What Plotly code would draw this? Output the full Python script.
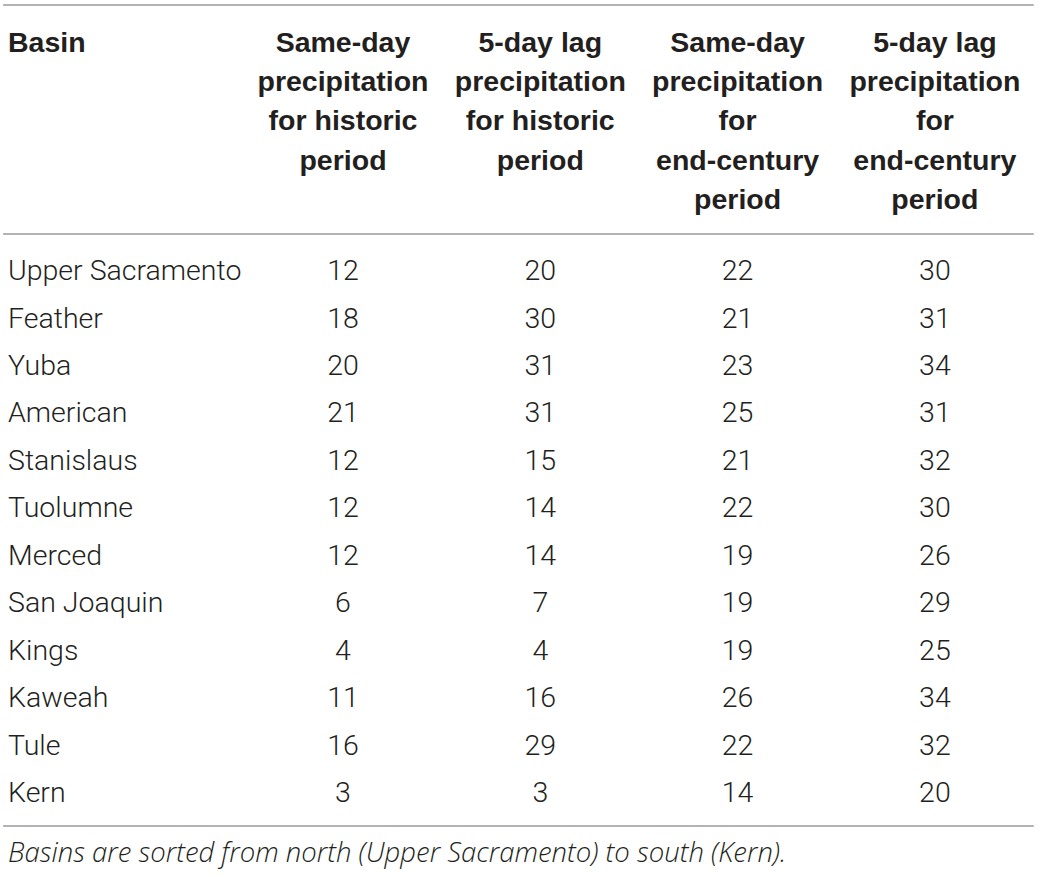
import plotly.graph_objects as go

basins = ['Upper Sacramento', 'Feather', 'Yuba', 'American', 'Stanislaus', 'Tuolumne',
          'Merced', 'San Joaquin', 'Kings', 'Kaweah', 'Tule', 'Kern']
same_day_hist = [12, 18, 20, 21, 12, 12, 12, 6, 4, 11, 16, 3]
lag5_hist = [20, 30, 31, 31, 15, 14, 14, 7, 4, 16, 29, 3]
same_day_end = [22, 21, 23, 25, 21, 22, 19, 19, 19, 26, 22, 14]
lag5_end = [30, 31, 34, 31, 32, 30, 26, 29, 25, 34, 32, 20]

headers = [
    ['Basin'],
    ['Same-day', 'precipitation', 'for historic', 'period'],
    ['5-day lag', 'precipitation', 'for historic', 'period'],
    ['Same-day', 'precipitation', 'for', 'end-century', 'period'],
    ['5-day lag', 'precipitation', 'for', 'end-century', 'period'],
]
footnote = 'Basins are sorted from north (Upper Sacramento) to south (Kern).'

columns = [same_day_hist, lag5_hist, same_day_end, lag5_end]

# layout helpers: rows are 47.45px apart, first row centred at 270px
ROW_H = 47.45
FIRST = 270
COL_W = 197.3
COL1 = 343
NUDGE = 3  # plotly's "middle" sits a little above the cap centre


def ypx(px):
    return (px - FIRST) / ROW_H


def xpx(px):
    return 1 + (px - COL1) / COL_W


TXT = '#231f20'
BODY = dict(family='Roboto', size=28.5, color=TXT, weight=300)
HEAD = dict(family='Liberation Sans', size=28.5, color=TXT, weight=700)

fig = go.Figure()
rows = [ypx(FIRST + NUDGE) + i for i in range(len(basins))]

fig.add_trace(go.Scatter(x=[xpx(8)] * len(basins), y=rows, text=basins, mode='text',
                         textposition='middle right', textfont=BODY, hoverinfo='skip'))
for j, col in enumerate(columns, start=1):
    fig.add_trace(go.Scatter(x=[j] * len(col), y=rows, text=[str(v) for v in col], mode='text',
                             textposition='middle center', textfont=BODY, hoverinfo='skip'))

for j, lines in enumerate(headers):
    ys = [ypx(41.5 + NUDGE + k * 39.3) for k in range(len(lines))]
    if j == 0:
        fig.add_trace(go.Scatter(x=[xpx(8)] * len(lines), y=ys, text=lines, mode='text',
                                 textposition='middle right', textfont=HEAD, hoverinfo='skip'))
    else:
        fig.add_trace(go.Scatter(x=[j] * len(lines), y=ys, text=lines, mode='text',
                                 textposition='middle center', textfont=HEAD, hoverinfo='skip'))

rule = dict(color='#9a9a9a', width=1.5)
for px in [5, 234, 826]:
    fig.add_shape(type='line', xref='paper', yref='y', x0=0.003, x1=0.994,
                  y0=ypx(px), y1=ypx(px), line=rule)

fig.add_annotation(text=footnote, xref='x', yref='y', x=xpx(6), y=ypx(851),
                   xanchor='left', yanchor='middle', showarrow=False,
                   font=dict(family='Open Sans', size=27.5, color=TXT, weight=300, style='italic'))

fig.update_layout(
    width=1040, height=875,
    margin=dict(l=0, r=0, t=0, b=0),
    paper_bgcolor='white', plot_bgcolor='white',
    showlegend=False,
    xaxis=dict(visible=False, range=[xpx(0), xpx(1040)], fixedrange=True),
    yaxis=dict(visible=False, range=[ypx(875), ypx(0)], fixedrange=True),
)

fig.write_html('out.html', config={'displayModeBar': False},
               post_script="document.body.style.margin='0';")
